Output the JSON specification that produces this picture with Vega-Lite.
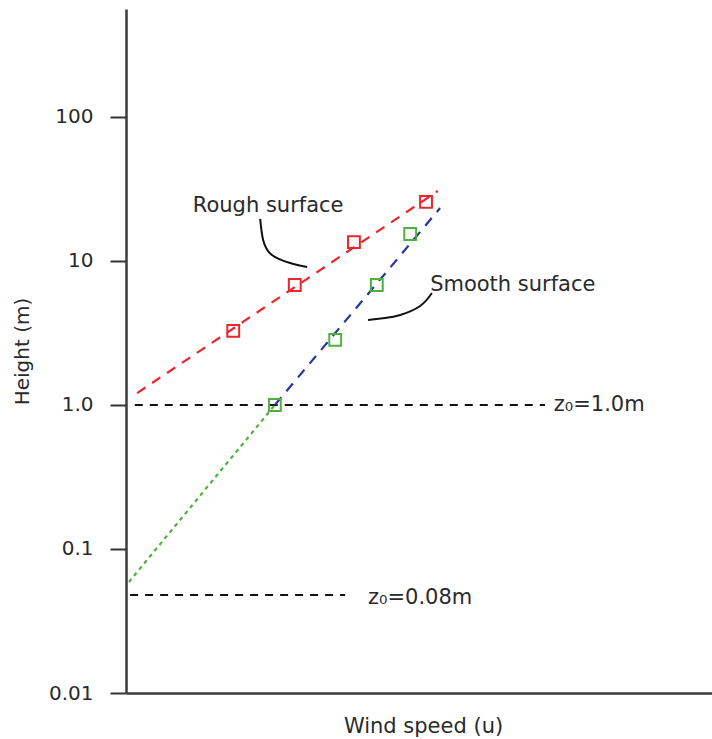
{
  "$schema": "https://vega.github.io/schema/vega-lite/v6.json",
  "width": 586,
  "height": 684,
  "autosize": {"type": "none"},
  "padding": {"left": 126, "top": 9, "right": 0, "bottom": 46},
  "background": "white",
  "config": {
    "view": {"stroke": null},
    "font": "DejaVu Sans",
    "text": {"font": "DejaVu Sans", "fontSize": 20, "color": "#2a2a2a"}
  },
  "datasets": {
    "fits": [
      {"series": "rough", "u": 0.19, "h": 1.21, "ord": 1},
      {"series": "rough", "u": 5.32, "h": 30.6, "ord": 2},
      {"series": "smooth", "u": 2.54, "h": 1.0, "ord": 1},
      {"series": "smooth", "u": 5.36, "h": 23.3, "ord": 2},
      {"series": "extrapolated", "u": 0.05, "h": 0.059, "ord": 1},
      {"series": "extrapolated", "u": 2.54, "h": 1.0, "ord": 2}
    ],
    "obs": [
      {"surface": "rough", "u": 1.83, "h": 3.27},
      {"surface": "rough", "u": 2.88, "h": 6.81},
      {"surface": "rough", "u": 3.89, "h": 13.5},
      {"surface": "rough", "u": 5.12, "h": 25.7},
      {"surface": "smooth", "u": 2.54, "h": 1.0},
      {"surface": "smooth", "u": 3.57, "h": 2.83},
      {"surface": "smooth", "u": 4.28, "h": 6.81},
      {"surface": "smooth", "u": 4.85, "h": 15.4}
    ],
    "refs": [
      {"u1": 0.15, "u2": 7.15, "h": 1.0},
      {"u1": 0.07, "u2": 3.74, "h": 0.048}
    ],
    "leaders": [
      {"grp": "rough", "ord": 1, "u": 2.29, "h": 19.6},
      {"grp": "rough", "ord": 2, "u": 2.34, "h": 14.0},
      {"grp": "rough", "ord": 3, "u": 2.49, "h": 11.0},
      {"grp": "rough", "ord": 4, "u": 2.80, "h": 9.69},
      {"grp": "rough", "ord": 5, "u": 3.09, "h": 9.08},
      {"grp": "smooth", "ord": 1, "u": 5.22, "h": 5.99},
      {"grp": "smooth", "ord": 2, "u": 5.02, "h": 4.87},
      {"grp": "smooth", "ord": 3, "u": 4.68, "h": 4.22},
      {"grp": "smooth", "ord": 4, "u": 4.42, "h": 4.02},
      {"grp": "smooth", "ord": 5, "u": 4.13, "h": 3.89}
    ],
    "labels": [
      {"text": "Rough surface", "u": 1.14, "h": 24.1, "base": "alphabetic"},
      {"text": "Smooth surface", "u": 5.19, "h": 6.81, "base": "alphabetic"},
      {"text": "z₀=1.0m", "u": 7.3, "h": 1.0, "base": "middle"},
      {"text": "z₀=0.08m", "u": 4.13, "h": 0.046, "base": "middle"}
    ]
  },
  "encoding": {
    "x": {
      "field": "u",
      "type": "quantitative",
      "scale": {"domain": [0, 10], "nice": false, "zero": false},
      "axis": {
        "title": "Wind speed (u)",
        "ticks": false,
        "labels": false,
        "grid": false,
        "domainColor": "#3a3a3a",
        "domainWidth": 2.5,
        "titleFont": "DejaVu Sans",
        "titleFontSize": 21,
        "titleFontWeight": "normal",
        "titleColor": "#2a2a2a",
        "titleX": 297,
        "titleY": 39,
        "titleBaseline": "alphabetic",
        "titleAlign": "center"
      }
    },
    "y": {
      "field": "h",
      "type": "quantitative",
      "scale": {"type": "log", "domain": [0.01, 562], "nice": false},
      "axis": {
        "title": "Height (m)",
        "values": [0.01, 0.1, 1, 10, 100],
        "labelExpr": "datum.value == 1 ? '1.0' : datum.label",
        "grid": false,
        "tickSize": 16,
        "tickWidth": 2,
        "tickColor": "#333333",
        "domainColor": "#3a3a3a",
        "domainWidth": 2.5,
        "labelFont": "DejaVu Sans",
        "labelFontSize": 20,
        "labelColor": "#2a2a2a",
        "labelPadding": 17,
        "titleFont": "DejaVu Sans",
        "titleFontSize": 20,
        "titleFontWeight": "normal",
        "titleColor": "#2a2a2a",
        "titleX": -104,
        "titleY": 342,
        "titleAngle": -90,
        "titleBaseline": "middle",
        "titleAlign": "center"
      }
    }
  },
  "layer": [
    {
      "mark": {"type": "rule", "color": "#3a3a3a", "strokeWidth": 2.5},
      "encoding": {"y": {"datum": 562}}
    },
    {
      "data": {"name": "refs"},
      "mark": {"type": "rule", "color": "#111111", "strokeWidth": 2, "strokeDash": [8, 7]},
      "encoding": {
        "x": {"field": "u1", "type": "quantitative"},
        "x2": {"field": "u2"}
      }
    },
    {
      "data": {"name": "fits"},
      "transform": [{"filter": "datum.series == 'rough'"}],
      "mark": {"type": "line", "color": "#e8262b", "strokeWidth": 2.2, "strokeDash": [10, 8]},
      "encoding": {"order": {"field": "ord"}}
    },
    {
      "data": {"name": "fits"},
      "transform": [{"filter": "datum.series == 'smooth'"}],
      "mark": {"type": "line", "color": "#26379e", "strokeWidth": 2.2, "strokeDash": [10, 8]},
      "encoding": {"order": {"field": "ord"}}
    },
    {
      "data": {"name": "fits"},
      "transform": [{"filter": "datum.series == 'extrapolated'"}],
      "mark": {"type": "line", "color": "#4fb03e", "strokeWidth": 2.2, "strokeDash": [4, 4]},
      "encoding": {"order": {"field": "ord"}}
    },
    {
      "data": {"name": "obs"},
      "mark": {"type": "point", "shape": "square", "filled": false, "size": 140, "strokeWidth": 2, "opacity": 1},
      "encoding": {
        "color": {
          "field": "surface",
          "type": "nominal",
          "scale": {"domain": ["rough", "smooth"], "range": ["#e8262b", "#4fb03e"]},
          "legend": null
        }
      }
    },
    {
      "data": {"name": "leaders"},
      "mark": {"type": "line", "color": "#111111", "strokeWidth": 2, "interpolate": "natural"},
      "encoding": {
        "detail": {"field": "grp"},
        "order": {"field": "ord"}
      }
    },
    {
      "data": {"name": "labels"},
      "mark": {"type": "text", "align": "left", "fontSize": 21, "color": "#2a2a2a", "font": "DejaVu Sans"},
      "encoding": {
        "text": {"field": "text"},
        "baseline": {"field": "base", "type": "nominal", "scale": null}
      }
    }
  ]
}
